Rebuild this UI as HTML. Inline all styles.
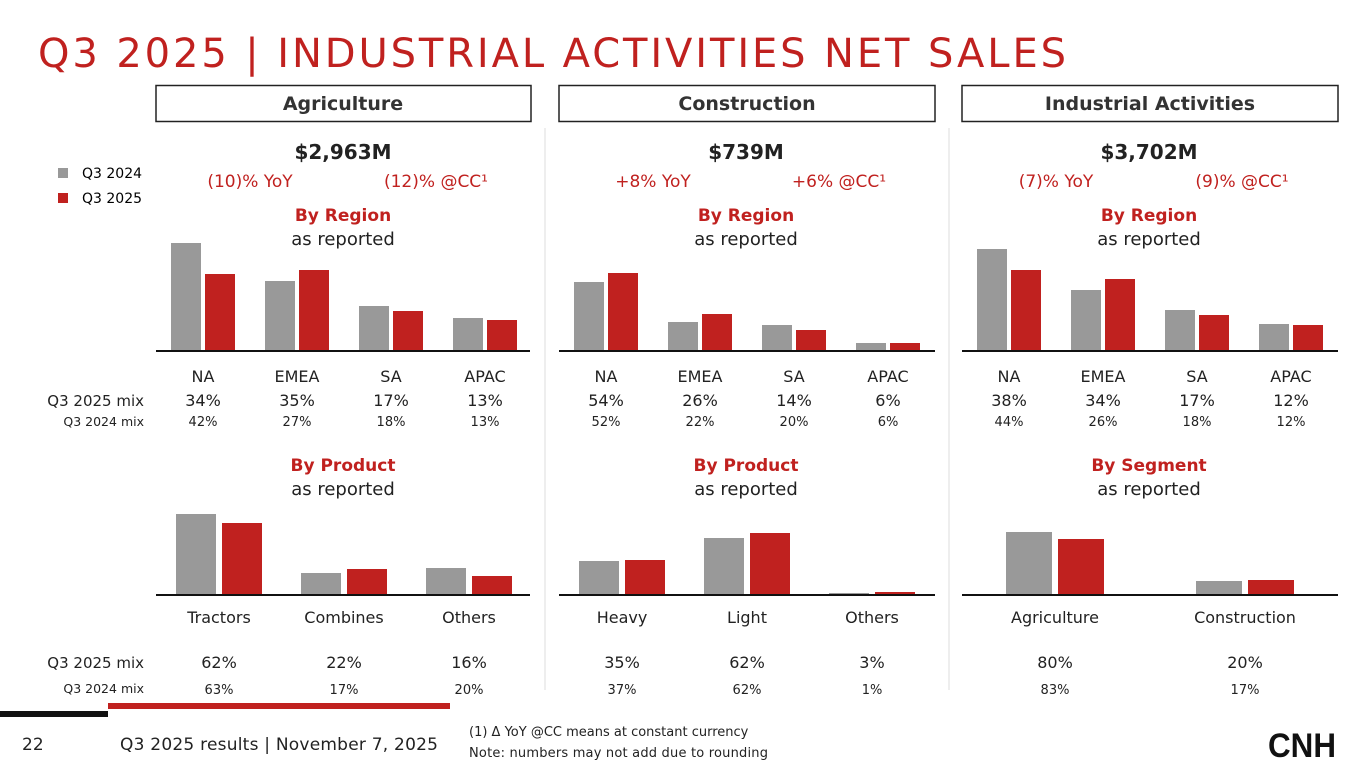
<!DOCTYPE html>
<html><head><meta charset="utf-8"><style>
html,body{margin:0;padding:0;background:#fff;}
svg{display:block;font-family:"DejaVu Sans","Liberation Sans",sans-serif;}
</style></head><body>
<svg id="s" width="1365" height="768" viewBox="0 0 1365 768">
<text x="38" y="67" font-size="40" fill="#c0211f" textLength="1028" lengthAdjust="spacing">Q3 2025 | INDUSTRIAL ACTIVITIES NET SALES</text>

<g>
<rect x="58" y="168" width="10" height="10" fill="#999"/><text x="82" y="178" font-size="14">Q3 2024</text>
<rect x="58" y="193" width="10" height="10" fill="#c0211f"/><text x="82" y="203" font-size="14">Q3 2025</text>
</g>

<g>
<rect x="156" y="85.5" width="375" height="36" fill="none" stroke="#222" stroke-width="1.5"/>
<text x="343" y="110" font-size="19" font-weight="bold" text-anchor="middle" fill="#333">Agriculture</text>
<rect x="559" y="85.5" width="376" height="36" fill="none" stroke="#222" stroke-width="1.5"/>
<text x="747" y="110" font-size="19" font-weight="bold" text-anchor="middle" fill="#333">Construction</text>
<rect x="962" y="85.5" width="376" height="36" fill="none" stroke="#222" stroke-width="1.5"/>
<text x="1150" y="110" font-size="19" font-weight="bold" text-anchor="middle" fill="#333">Industrial Activities</text>
</g>
<line x1="545" y1="128" x2="545" y2="690" stroke="#ddd" stroke-width="1"/>
<line x1="949" y1="128" x2="949" y2="690" stroke="#ddd" stroke-width="1"/>

<g font-size="15" fill="#222">
<text x="144" y="406" text-anchor="end">Q3 2025 mix</text>
<text x="144" y="426" text-anchor="end" font-size="12.5">Q3 2024 mix</text>
<text x="144" y="668" text-anchor="end">Q3 2025 mix</text>
<text x="144" y="693" text-anchor="end" font-size="12.5">Q3 2024 mix</text>
</g>

<g id="charts"></g>

<rect x="0" y="711" width="108" height="6" fill="#111"/>
<rect x="108" y="703" width="342" height="6" fill="#c0211f"/>
<text x="22" y="750" font-size="17" fill="#222">22</text>
<text x="120" y="750" font-size="17" fill="#222" textLength="318" lengthAdjust="spacing">Q3 2025 results | November 7, 2025</text>
<text x="469" y="736" font-size="13" fill="#222">(1) Δ YoY @CC means at constant currency</text>
<text x="469" y="757" font-size="13" fill="#222" textLength="299" lengthAdjust="spacing">Note: numbers may not add due to rounding</text>
<text x="1268" y="757" font-size="34" font-weight="bold" fill="#111" textLength="68" lengthAdjust="spacingAndGlyphs" font-family="Liberation Sans, sans-serif">CNH</text>
</svg>
<script>
// Region charts data (relative heights)
const regionCats = ["NA","EMEA","SA","APAC"];
const agriRegion24 = [107,69,44,32];
const agriRegion25 = [76,80,39,30];
const consRegion24 = [68,28,25,7];
const consRegion25 = [77,36,20,7];
const indRegion24 = [101,60,40,26];
const indRegion25 = [80,71,35,25];
const agriRegionMix25 = ["34%","35%","17%","13%"];
const agriRegionMix24 = ["42%","27%","18%","13%"];
const consRegionMix25 = ["54%","26%","14%","6%"];
const consRegionMix24 = ["52%","22%","20%","6%"];
const indRegionMix25 = ["38%","34%","17%","12%"];
const indRegionMix24 = ["44%","26%","18%","12%"];
// Product / segment charts
const agriProdCats = ["Tractors","Combines","Others"];
const agriProd24 = [80,21,26];
const agriProd25 = [71,25,18];
const agriProdMix25 = ["62%","22%","16%"];
const agriProdMix24 = ["63%","17%","20%"];
const consProdCats = ["Heavy","Light","Others"];
const consProd24 = [33,56,1];
const consProd25 = [34,61,2];
const consProdMix25 = ["35%","62%","3%"];
const consProdMix24 = ["37%","62%","1%"];
const segCats = ["Agriculture","Construction"];
const seg24 = [62,13];
const seg25 = [55,14];
const segMix25 = ["80%","20%"];
const segMix24 = ["83%","17%"];
// Panel text
const totals = ["$2,963M","$739M","$3,702M"];
const yoy = ["(10)% YoY","+8% YoY","(7)% YoY"];
const cc = ["(12)% @CC\u00b9","+6% @CC\u00b9","(9)% @CC\u00b9"];
const lowerTitles = ["By Product","By Product","By Segment"];

const NS="http://www.w3.org/2000/svg";
const root=document.getElementById('charts');
function el(tag,attrs,txt){const e=document.createElementNS(NS,tag);for(const k in attrs)e.setAttribute(k,attrs[k]);if(txt!==undefined)e.textContent=txt;root.appendChild(e);return e;}
function yScale(base,v){return base-v;}

function chart(name,x0,x1,base,cats,s24,s25,mix25,mix24,bw,gap,labY,m25Y,m24Y,spacing,first){
  const ax=el('line',{x1:x0,x2:x1,y1:base+1,y2:base+1,stroke:'#111','stroke-width':2});
  
  
  cats.forEach((c,i)=>{
    const cx=first+i*spacing;
    const g=el('rect',{x:cx-gap/2-bw,y:yScale(base,s24[i]),width:bw,height:s24[i],fill:'#999'});
    
    
    const r=el('rect',{x:cx+gap/2,y:yScale(base,s25[i]),width:bw,height:s25[i],fill:'#c0211f'});
    
    
    const t=el('text',{x:cx,y:labY,'font-size':16,'text-anchor':'middle',fill:'#222'},c);
    
    
    const m=el('text',{x:cx,y:m25Y,'font-size':16,'text-anchor':'middle',fill:'#222'},mix25[i]);
    
    
    const n=el('text',{x:cx,y:m24Y,'font-size':13,'text-anchor':'middle',fill:'#222'},mix24[i]);
    
    
  });
}
const panelX=[156,559,962];
const names=["agriculture","construction","industrial"];
panelX.forEach((px,i)=>{
  const c=px+187;
  const a=el('text',{x:c,y:159,'font-size':20,'font-weight':'bold','text-anchor':'middle',fill:'#222'},totals[i]);
  
  
  const b=el('text',{x:c-93,y:187,'font-size':17,'text-anchor':'middle',fill:'#c0211f'},yoy[i]);
  
  
  const d=el('text',{x:c+93,y:187,'font-size':17,'text-anchor':'middle',fill:'#c0211f'},cc[i]);
  
  
  const e=el('text',{x:c,y:221,'font-size':17,'font-weight':'bold','text-anchor':'middle',fill:'#c0211f'},'By Region');
  
  
  const f=el('text',{x:c,y:245,'font-size':18,'text-anchor':'middle',fill:'#222'},'as reported');
  
  
  const g=el('text',{x:c,y:471,'font-size':17,'font-weight':'bold','text-anchor':'middle',fill:'#c0211f'},lowerTitles[i]);
  
  
  const h=el('text',{x:c,y:495,'font-size':18,'text-anchor':'middle',fill:'#222'},'as reported');
  
  
});
chart('agri-region',156,530,350,regionCats,agriRegion24,agriRegion25,agriRegionMix25,agriRegionMix24,30,4,382,406,426,94,203);
chart('cons-region',559,935,350,regionCats,consRegion24,consRegion25,consRegionMix25,consRegionMix24,30,4,382,406,426,94,606);
chart('ind-region',962,1338,350,regionCats,indRegion24,indRegion25,indRegionMix25,indRegionMix24,30,4,382,406,426,94,1009);
chart('agri-product',156,530,594,agriProdCats,agriProd24,agriProd25,agriProdMix25,agriProdMix24,40,6,623,668,694,125,219);
chart('cons-product',559,935,594,consProdCats,consProd24,consProd25,consProdMix25,consProdMix24,40,6,623,668,694,125,622);
chart('ind-segment',962,1338,594,segCats,seg24,seg25,segMix25,segMix24,46,6,623,668,694,190,1055);
</script>
</body></html>
